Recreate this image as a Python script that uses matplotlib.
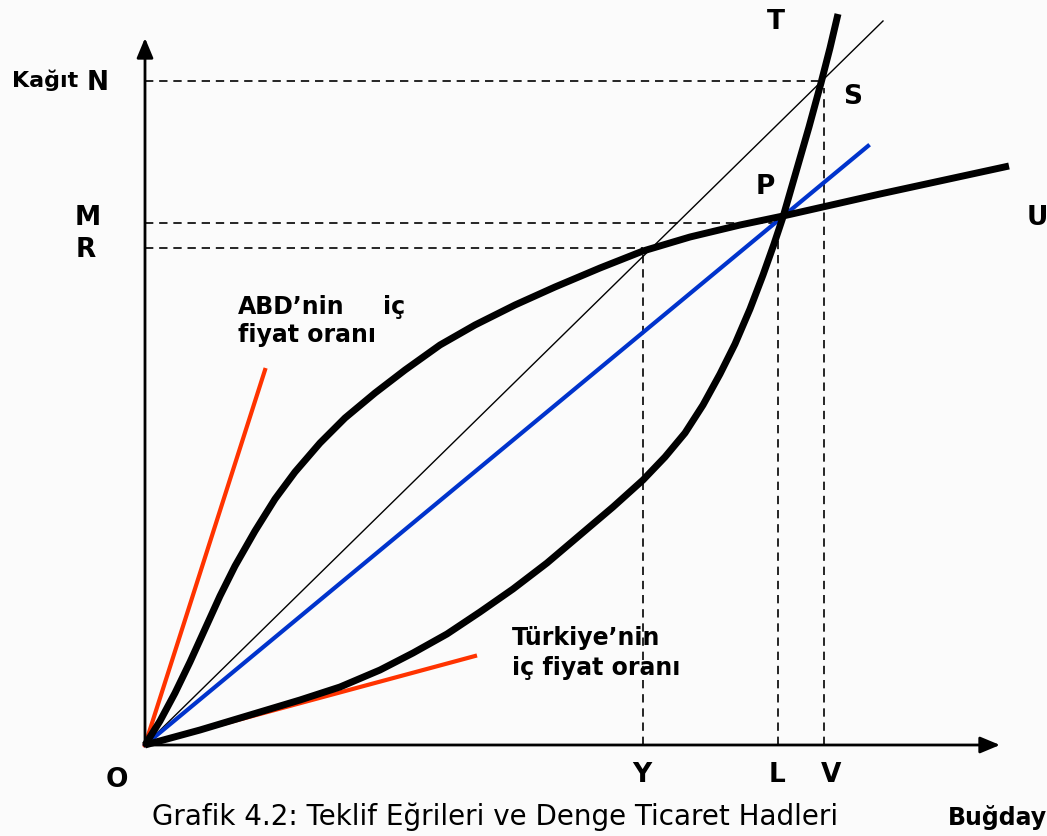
import matplotlib
matplotlib.use("Agg")
import matplotlib.pyplot as plt

# Coordinates: origin O of the diagram, x to the right (Buğday), y upward (Kağıt)

# ABD offer curve (O -> P -> U)
abd_x = [0, 15, 30, 45, 60, 75, 90, 110, 130, 150, 175, 200, 230, 260, 295, 330, 370,
         410, 455, 498, 545, 595, 638, 735, 864]
abd_y = [0, 24, 52, 83, 116, 149, 179, 214, 246, 273, 302, 327, 352, 375, 400, 420, 440,
         458, 477, 494, 508, 520, 529, 551, 579]

# Türkiye offer curve (O -> P -> S -> T)
tr_x = [0, 55, 115, 155, 195, 235, 268, 302, 335, 368, 402, 435, 468, 498, 520, 540,
        558, 575, 590, 605, 618, 629, 638, 651, 664, 676, 685, 693]
tr_y = [0, 15, 33, 45, 58, 75, 92, 111, 133, 156, 182, 210, 238, 265, 288, 312,
        340, 371, 401, 436, 470, 501, 528, 573, 618, 662, 697, 731]

# straight rays from the origin
thin_end = (738, 724)
blue_end = (723, 599)
red_abd_end = (120, 375)
red_tr_end = (330, 89)

# dashed guides
level_N, level_M, level_R = 664, 522, 497
x_Y, x_L, x_V = 498, 633, 679
x_S, x_P = 673, 636

fig = plt.figure(figsize=(10.47, 8.36), dpi=100, facecolor="#fbfbfb")
ax = fig.add_axes([0, 0, 1, 1])
ax.set_facecolor("#fbfbfb")
ax.set_xlim(-145, 1047 - 145)
ax.set_ylim(-(836 - 745), 745)
ax.axis("off")

dash = dict(color="black", lw=1.2, linestyle=(0, (5, 3.5)))
ax.plot([0, x_S], [level_N, level_N], **dash)
ax.plot([0, x_P], [level_M, level_M], **dash)
ax.plot([0, x_Y], [level_R, level_R], **dash)
ax.plot([x_Y, x_Y], [0, level_R], **dash)
ax.plot([x_L, x_L], [0, level_M], **dash)
ax.plot([x_V, x_V], [0, level_N - 7], **dash)

# rays
ax.plot([0, thin_end[0]], [0, thin_end[1]], color="black", lw=1.0)
ax.plot([0, blue_end[0]], [0, blue_end[1]], color="#0033cc", lw=3)
ax.plot([0, red_abd_end[0]], [0, red_abd_end[1]], color="#ff3300", lw=3)
ax.plot([0, red_tr_end[0]], [0, red_tr_end[1]], color="#ff3300", lw=3)

# offer curves
ax.plot(abd_x, abd_y, color="black", lw=5, solid_joinstyle="round", solid_capstyle="butt")
ax.plot(tr_x, tr_y, color="black", lw=5, solid_joinstyle="round", solid_capstyle="butt")

# axes with arrows
arrow = dict(arrowstyle="-|>,head_length=0.6,head_width=0.25", lw=2, color="black",
             mutation_scale=20, shrinkA=0, shrinkB=0)
ax.annotate("", xy=(0, 707), xytext=(0, -1), arrowprops=arrow)
ax.annotate("", xy=(855, 0), xytext=(-1, 0), arrowprops=arrow)

bold = dict(fontweight="bold", color="black", family="DejaVu Sans")
big = 19
ax.text(-133, 665, "Kağıt", fontsize=16, ha="left", va="center", **bold)
ax.text(-47, 662, "N", fontsize=big, ha="center", va="center", **bold)
ax.text(-57, 527, "M", fontsize=big, ha="center", va="center", **bold)
ax.text(-59, 495, "R", fontsize=big, ha="center", va="center", **bold)
ax.text(-28, -35, "O", fontsize=big, ha="center", va="center", **bold)
ax.text(497, -30, "Y", fontsize=big, ha="center", va="center", **bold)
ax.text(632, -30, "L", fontsize=big, ha="center", va="center", **bold)
ax.text(686, -30, "V", fontsize=big, ha="center", va="center", **bold)
ax.text(631, 723, "T", fontsize=big, ha="center", va="center", **bold)
ax.text(708, 648, "S", fontsize=big, ha="center", va="center", **bold)
ax.text(620, 558, "P", fontsize=big, ha="center", va="center", **bold)
ax.text(892, 527, "U", fontsize=big, ha="center", va="center", **bold)
ax.text(902, -73, "Buğday", fontsize=17, ha="right", va="center", **bold)

ax.text(93, 431, "ABD’nin", fontsize=17, ha="left", va="baseline", **bold)
ax.text(238, 431, "iç", fontsize=17, ha="left", va="baseline", **bold)
ax.text(93, 403, "fiyat oranı", fontsize=17, ha="left", va="baseline", **bold)
ax.text(367, 100, "Türkiye’nin", fontsize=17, ha="left", va="baseline", **bold)
ax.text(367, 70, "iç fiyat oranı", fontsize=17, ha="left", va="baseline", **bold)

# caption (cut off by the bottom edge in the original; lifted a little so it stays readable)
ax.text(350, -80, "Grafik 4.2: Teklif Eğrileri ve Denge Ticaret Hadleri", fontsize=20,
        ha="center", va="baseline", color="black", family="DejaVu Sans")

fig.savefig("out.png", dpi=100, facecolor=fig.get_facecolor())
